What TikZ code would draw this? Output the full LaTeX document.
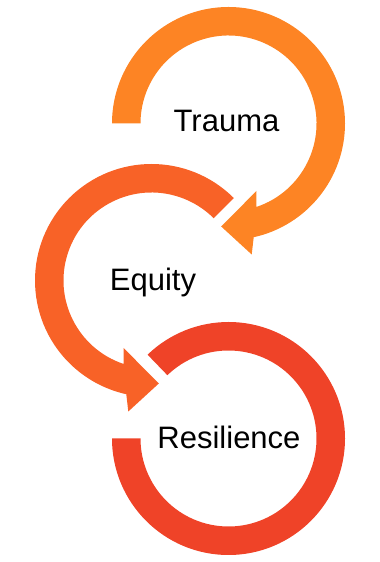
\documentclass[tikz,border=0pt]{standalone}
\usepackage{fontspec}
\setmainfont{Liberation Sans}
\definecolor{ringA}{RGB}{253,132,36}
\definecolor{ringB}{RGB}{248,98,39}
\definecolor{ringC}{RGB}{239,67,40}
\begin{document}
\begin{tikzpicture}[x=1pt,y=1pt,
  lbl/.style={font=\fontsize{31}{36}\selectfont, text=black, anchor=base, inner sep=0pt}]
\useasboundingbox (0,0) rectangle (380,562);
% top ring (Trauma)
\begin{scope}[shift={(228.5,438.5)}]
\fill[ringA] (180:116.5) arc[start angle=180,end angle=-77.5,radius=116.5]
  -- (23.2,-131) -- (-7.3,-103) -- (27.9,-67.5)
  -- (-71.5:88) arc[start angle=-71.5,end angle=180,radius=88] -- cycle;
\end{scope}
% middle ring (Equity)
\begin{scope}[shift={(151.5,281.5)}]
\fill[ringB] (45:116.5) arc[start angle=45,end angle=257.5,radius=116.5]
  -- (-23.2,-131) -- (7.3,-103) -- (-27.9,-67.5)
  -- (251.5:88) arc[start angle=251.5,end angle=45,radius=88] -- cycle;
\end{scope}
% bottom ring (Resilience)
\begin{scope}[shift={(228.5,123.5)}]
\fill[ringC] (180:116.5) arc[start angle=180,end angle=494,radius=116.5]
  -- (494:88) arc[start angle=494,end angle=180,radius=88] -- cycle;
\end{scope}
\node[lbl] (trauma) at (226.5,430) {Trauma};
\node[lbl] (equity) at (153,271) {Equity};
\node[lbl] (resil) at (229,113) {Resilience};
\end{tikzpicture}
\end{document}
